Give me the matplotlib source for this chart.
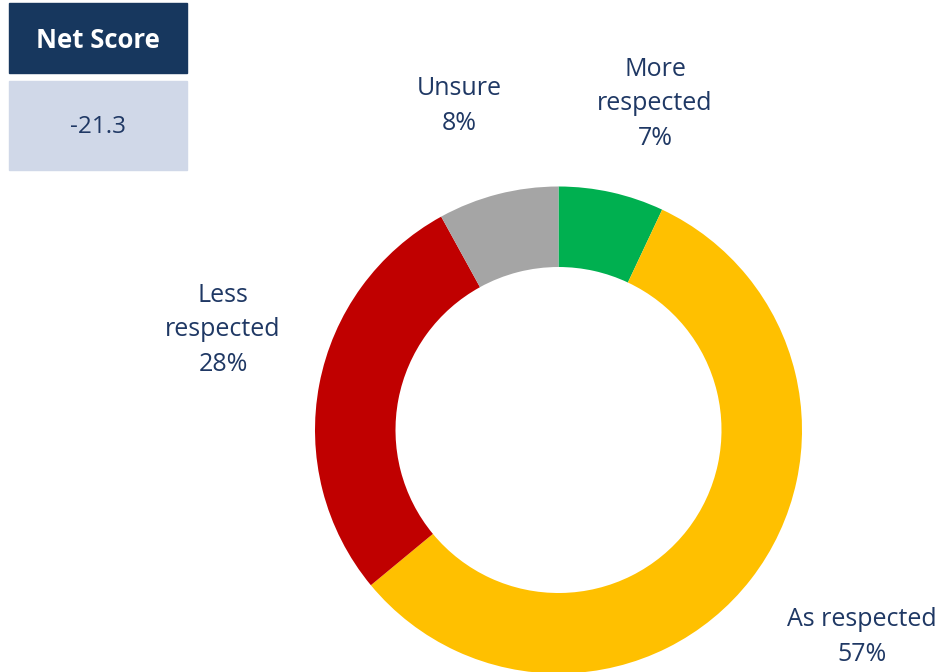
import matplotlib.pyplot as plt
from matplotlib.patches import Rectangle

labels = ["More\nrespected", "As respected", "Less\nrespected", "Unsure"]
values = [7, 57, 28, 8]
colors = ["#00B050", "#FFC000", "#C00000", "#A5A5A5"]
net_score = -21.3

# label anchor points, in pixels from the top left
label_pos = [(655, 104), (862, 637), (223, 330), (459, 106)]

W, H = 938, 672
navy = "#1F3864"
plt.rcParams['font.family'] = ['Open Sans', 'DejaVu Sans']

fig = plt.figure(figsize=(W / 100, H / 100), dpi=100)
ax = fig.add_axes([0, 0, 1, 1])

ax.pie(values, colors=colors, startangle=90, counterclock=False,
       center=(558.5, H - 430), radius=243.5,
       wedgeprops=dict(width=80.5, linewidth=0))

# pie resets the limits, so set them afterwards
ax.set_xlim(0, W)
ax.set_ylim(0, H)
ax.set_aspect('equal')
ax.axis('off')

for lab, v, (x, y) in zip(labels, values, label_pos):
    ax.text(x, H - y, f"{lab}\n{v}%", ha='center', va='center',
            fontsize=18, color=navy, linespacing=1.5)

# net score boxes
ax.add_patch(Rectangle((9, H - 73), 178, 70, color="#17375E"))
ax.add_patch(Rectangle((9, H - 170), 178, 89, color="#D0D8E8"))
ax.text(98, H - 40, "Net Score", ha='center', va='center',
        fontsize=18.5, fontweight='bold', color='white')
ax.text(98, H - 127, f"{net_score}", ha='center', va='center',
        fontsize=17.5, color=navy)

plt.savefig("out.png", dpi=100)
